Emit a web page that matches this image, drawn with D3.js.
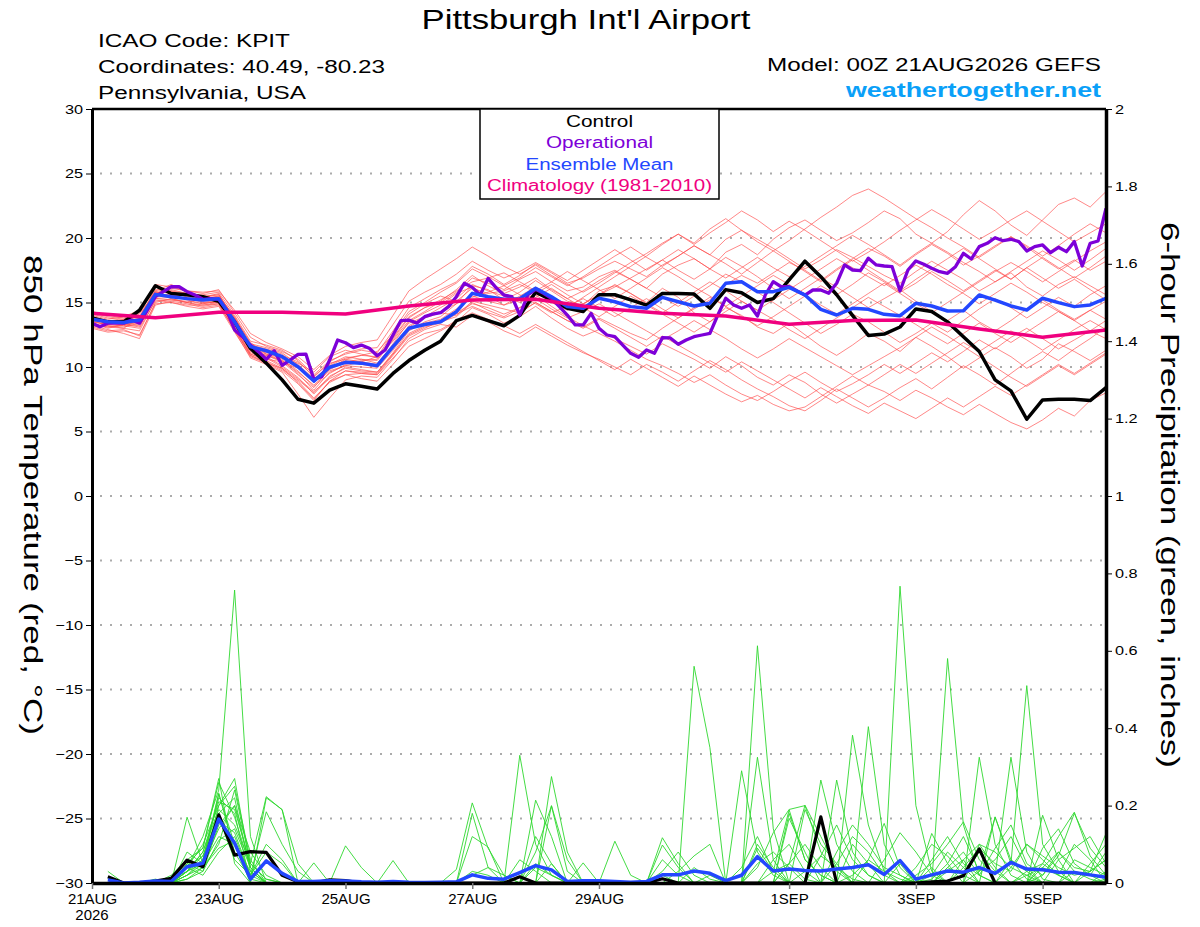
<!DOCTYPE html>
<html>
<head>
<meta charset="utf-8">
<script src="https://cdnjs.cloudflare.com/ajax/libs/d3/7.8.5/d3.min.js"></script>
<style>
  body { margin: 0; background: #fff; }
  text { font-family: "Liberation Sans", Arial, Helvetica, sans-serif; }
</style>
</head>
<body>
<script>
// plot box inside the 1200x927 page
const margin = {top: 109, right: 94, bottom: 44, left: 92},
      width = 1014,
      height = 774

// x is forecast hour from 00Z 21AUG2026 (0 .. 384)
const xTickHours = [0, 48, 96, 144, 192, 264, 312, 360]
const xTickLabels = ["21AUG", "23AUG", "25AUG", "27AUG", "29AUG", "1SEP", "3SEP", "5SEP"]
const tempTicks = [30, 25, 20, 15, 10, 5, 0, -5, -10, -15, -20, -25, -30]
const gridTemps = [25, 20, 15, 10, 5, 0, -5, -10, -15, -20, -25]
const precipTicks = [0, 0.2, 0.4, 0.6, 0.8, 1, 1.2, 1.4, 1.6, 1.8, 2]

// 850 hPa temperature, 6-hourly from hour 0
const tempControl = [13.8,13.5,13.5,14.4,16.3,15.7,15.6,15.45,15.1,13.5,11.45,10.3,9.0,7.5,7.2,8.2,8.7,8.5,8.3,9.5,10.5,
  11.3,12.0,13.6,14.0,13.6,13.2,14.0,15.8,15.2,14.55,14.3,15.6,15.6,15.2,14.8,15.7,15.7,15.65,14.55,16.0,15.75,15.0,
  15.3,16.75,18.2,17.0,15.6,14.0,12.45,12.55,13.1,14.5,14.3,13.5,12.35,11.2,9.0,8.15,5.95,7.45,7.5,7.5,7.4,8.4]

const tempMean = [13.7,13.51,13.45,13.64,15.63,15.45,15.3,15.19,15.3,13.51,11.58,11.26,10.8,10.02,8.91,9.98,10.36,10.3,10.1,11.58,13.0,
  13.3,13.51,14.29,15.71,15.45,15.25,15.3,16.1,15.45,14.68,14.55,15.33,15.06,14.68,14.55,15.4,15.06,14.73,14.94,16.49,16.61,15.84,
  15.84,16.17,15.58,14.47,14.03,14.55,14.47,14.08,13.98,14.94,14.73,14.34,14.36,15.58,15.19,14.73,14.42,15.33,14.99,14.68,14.81,15.33]

// operational run, 3-hourly from hour 0
const tempOper = [13.39,13.12,13.4,13.4,13.4,13.64,13.4,14.42,15.45,15.84,16.22,16.22,15.84,15.58,15.25,15.3,15.25,14.42,
  12.87,12.35,11.7,11.19,10.6,11.26,10.13,10.54,10.98,11.0,9.05,9.25,10.54,12.09,11.88,11.5,11.7,11.45,10.87,11.32,
  12.48,13.6,13.64,13.4,13.9,14.1,14.21,14.68,15.45,16.49,16.17,15.58,16.87,16.15,15.58,15.45,14.03,15.58,16.02,15.71,
  15.33,14.68,14.03,13.26,13.26,14.16,13.0,12.48,12.35,11.7,11.06,10.75,11.32,11.06,12.27,12.25,11.76,12.09,12.35,12.48,
  12.61,14.03,15.33,14.81,14.55,14.81,13.95,15.6,16.61,16.22,16.22,15.89,15.58,15.97,15.97,15.71,16.49,17.91,17.52,17.47,
  18.43,17.91,17.83,17.78,15.89,17.52,18.22,17.96,17.65,17.39,17.26,17.78,18.81,18.37,19.33,19.59,20.02,19.79,19.9,19.72,
  18.99,19.33,19.46,18.86,19.28,18.94,19.72,17.83,19.59,19.77,22.3]

// 1981-2010 climatology, daily at 00Z
const tempClim = [14.16,13.82,14.24,14.24,14.1,14.73,15.19,15.25,14.55,14.16,13.95,13.31,13.6,13.64,12.95,12.3,12.87]

// ensemble members, 6-hourly from hour 0
const tempMembers = [
  [13.9,13.2,13.0,13.8,16.0,15.8,15.6,15.4,15.6, 13.8,11.9,11.0,10.5,9.6,8.6,9.7,10.1,10.4,10.8,12.3,13.9,
   14.6,15.0,15.8,16.9,16.5,16.0,16.8,17.4,16.6,15.9,16.2,17.0, 17.5,16.8,16.1,17.2,17.9,18.4,17.6,18.9,19.5,18.7,
   19.9,20.8,21.4,20.6,19.8,20.4,21.2,22.1,21.5,20.3,19.6, 20.5,21.8,22.9,22.1,21.0,20.2,21.4,22.6,23.1,22.4,23.6],
  [13.2,12.9,12.6,12.2,14.8,15.1,14.9,14.6,14.8, 12.9,10.9,10.4,9.8,8.9,7.6,8.8,9.4,9.1,8.9,10.2,11.6,
   12.2,12.8,13.5,14.6,14.1,13.4,13.9,14.7,13.8,13.0,12.4,12.9, 12.2,11.6,11.0,11.8,11.2,10.6,9.9,10.8,10.1,9.2,
   8.6,9.4,8.8,7.9,7.2,7.9,8.6,8.1,7.4,8.2,7.6, 6.9,6.3,7.1,6.4,5.7,5.2,5.9,6.8,6.2,7.4,8.0],
  [14.1,13.8,13.6,13.9,15.9,16.4,15.8,15.5,15.3, 13.2,11.2,10.8,10.1,9.2,7.9,9.2,10.0,9.8,9.6,11.1,12.8,
   13.5,13.9,14.9,16.3,16.0,15.2,15.8,16.7,15.9,15.1,14.8,15.9, 16.3,15.7,15.0,16.1,15.4,14.2,13.5,14.6,14.0,13.1,
   12.6,13.4,12.5,11.6,10.9,11.7,12.6,12.0,11.2,12.3,11.6, 10.8,9.9,10.7,11.5,10.8,9.9,10.6,11.8,11.2,10.5,11.3],
  [13.6,13.4,13.7,14.2,15.7,16.1,15.9,15.7,16.0, 14.2,12.3,11.6,11.2,10.6,9.4,10.5,11.0,11.3,11.1,12.8,14.6,
   15.3,16.0,16.6,17.8,17.2,16.4,17.1,18.0,17.3,16.5,16.9,17.6, 18.2,17.6,17.0,17.9,18.6,19.4,18.7,19.9,20.6,19.9,
   19.2,18.4,17.6,18.3,19.1,18.5,17.8,17.1,16.5,17.4,18.2, 17.5,16.8,15.9,16.6,17.3,16.2,15.5,16.4,17.0,16.3,15.6],
  [13.4,13.0,13.3,13.1,15.4,15.6,15.2,14.9,15.1, 13.0,11.0,10.6,10.4,9.9,9.0,10.2,10.8,10.6,10.3,11.7,13.1,
   13.8,14.2,14.0,15.1,14.8,14.5,14.2,15.0,14.3,13.6,13.1,13.8, 13.2,12.6,12.1,13.0,13.8,14.5,15.2,16.4,17.1,16.5,
   17.3,18.1,17.5,16.7,17.6,18.4,19.2,18.6,17.8,18.7,19.5, 18.8,17.9,18.6,19.4,20.1,19.3,18.4,17.6,18.3,17.5,18.2],
  [13.9,13.6,13.4,13.3,15.5,15.7,15.5,15.2,15.4, 13.4,11.4,11.0,10.7,10.3,9.6,10.8,11.3,11.0,10.7,12.0,13.4,
   13.9,14.3,14.9,15.5,15.1,14.8,15.2,15.6,14.7,13.9,13.2,12.6, 12.0,11.3,10.6,10.1,9.5,8.8,9.4,8.6,7.9,7.4,
   8.1,8.9,9.6,8.8,8.1,8.7,9.4,10.2,9.5,10.3,11.1, 10.4,11.2,12.1,11.4,12.3,13.0,12.2,11.4,12.1,12.8,12.2],
  [13.5,13.3,13.5,13.6,15.9,15.3,15.0,15.3,15.5, 13.7,11.7,11.4,11.0,10.0,8.8,9.8,10.4,10.6,10.5,12.1,13.6,
   14.3,15.1,16.0,17.1,16.3,15.7,16.2,16.9,16.0,15.3,15.9,16.7, 17.4,16.8,16.1,15.4,14.7,15.5,16.3,17.2,16.6,15.8,
   15.0,14.2,13.4,12.6,13.3,14.1,13.5,12.7,11.9,12.6,13.4, 12.7,13.6,14.5,15.3,14.6,13.8,14.6,15.4,14.7,15.6,16.3],
  [14.3,14.0,13.8,14.1,15.6,15.9,15.4,15.1,15.2, 13.6,11.5,11.2,10.9,10.4,9.3,10.3,10.6,10.9,11.2,12.5,14.1,
   14.9,15.5,15.1,16.1,15.7,15.9,16.4,15.8,15.0,14.4,14.9,15.6, 16.2,16.9,17.6,18.3,17.5,16.8,17.6,18.5,17.8,17.0,
   16.1,15.3,16.1,16.9,16.2,15.4,14.6,15.3,16.0,15.1,14.3, 13.6,14.4,13.5,12.8,13.6,14.5,15.2,14.4,13.7,14.4,15.1],
  [13.1,12.8,12.9,12.4,15.0,15.3,15.0,14.7,14.9, 12.8,10.7,10.2,9.6,7.9,6.1,7.6,9.0,9.3,9.2,10.6,12.2,
   12.9,13.3,13.1,14.0,13.5,12.8,12.3,13.1,12.4,11.7,11.1,10.6, 10.0,9.4,10.2,9.6,8.9,9.7,10.5,9.8,9.0,8.3,
   7.7,7.0,6.6,7.4,8.3,7.6,6.9,7.6,8.4,9.1,8.3, 9.2,10.1,9.4,8.6,9.5,10.4,11.2,10.5,11.4,12.2,13.1],
  [13.7,13.5,13.2,13.5,15.8,15.5,15.6,15.0,15.0, 13.3,11.3,10.9,10.5,9.5,8.2,9.6,10.1,10.0,9.9,11.3,12.9,
   13.4,13.7,14.5,15.4,15.8,16.3,15.6,14.9,14.2,14.7,15.3,14.6, 13.9,14.6,15.3,14.5,13.8,14.6,15.4,14.7,13.9,13.2,
   13.9,14.7,15.5,16.3,15.6,16.4,17.3,16.6,15.8,16.5,17.4, 16.7,15.9,16.7,17.5,16.8,17.7,16.9,16.1,16.8,16.0,15.2],
  [14.0,13.7,13.9,14.4,16.4,16.2,15.9,15.8,15.9, 14.4,12.6,11.9,11.4,10.8,9.8,10.9,11.6,11.9,12.1,14.0,15.9,
   16.8,17.6,18.4,19.3,18.6,17.8,17.2,17.9,17.1,16.4,15.8,16.5, 17.3,18.1,18.8,19.6,20.3,19.5,20.4,21.2,22.1,21.4,
   20.5,21.3,20.6,19.8,19.0,18.2,18.9,19.7,20.6,21.4,22.2, 21.5,20.7,19.9,20.6,21.4,22.1,21.3,20.5,19.7,20.4,21.1],
  [13.3,13.1,13.0,12.8,15.2,15.0,14.8,14.8,15.0, 13.1,11.1,10.7,10.0,9.1,8.1,9.1,9.7,9.5,9.4,10.9,12.4,
   13.0,13.6,14.2,14.9,14.6,14.1,14.6,15.3,14.5,13.8,14.3,14.9, 14.2,13.5,12.8,12.1,12.8,13.6,12.9,12.2,11.4,10.7,
   11.4,12.2,11.5,10.8,10.1,9.4,10.1,10.8,11.5,12.3,13.1, 12.4,11.6,10.8,10.0,9.2,8.5,9.3,10.1,9.4,10.2,11.0],
  [13.8,13.4,13.6,13.7,15.3,15.4,15.3,15.2,15.5, 13.9,11.8,11.5,11.1,10.2,9.1,10.0,10.5,10.2,10.0,11.5,13.2,
   13.9,14.6,15.3,16.4,15.9,15.5,15.0,15.7,16.4,15.6,14.9,15.6, 16.4,15.7,14.9,14.2,15.0,15.8,16.6,15.9,15.1,14.4,
   15.2,16.0,16.8,17.6,18.4,17.7,17.0,16.3,17.1,17.9,17.2, 16.4,15.7,14.9,15.7,16.5,15.8,15.0,14.3,13.6,14.4,13.7],
  [13.6,13.2,13.1,13.4,15.6,16.0,15.7,15.4,15.7, 13.5,11.4,11.1,10.8,10.1,9.0,10.1,10.7,10.9,10.8,12.6,14.3,
   15.0,15.8,16.5,17.6,17.0,16.3,16.9,17.7,17.0,16.3,17.0,17.8, 18.6,19.3,18.5,17.8,18.6,19.4,18.7,18.0,17.2,18.1,
   19.0,19.8,20.7,21.6,22.4,23.3,23.8,23.1,22.3,21.5,20.8, 20.0,19.3,18.5,19.3,20.1,19.4,18.6,19.4,20.3,21.1,20.4],
  [13.5,13.3,13.2,13.0,15.1,15.2,15.1,14.9,15.1, 13.0,11.0,10.5,9.9,8.8,7.5,8.9,9.7,9.6,9.5,11.0,12.5,
   13.1,13.4,14.1,14.7,14.2,13.8,14.3,15.0,14.3,13.6,13.0,13.7, 13.0,12.3,11.6,12.4,11.7,11.0,10.3,9.6,10.4,9.7,
   9.0,8.3,7.6,8.4,7.7,7.0,6.4,7.2,6.6,6.0,6.8, 7.6,6.9,7.7,8.5,7.8,8.6,9.4,10.2,9.5,10.3,11.1],
  [14.2,13.9,13.7,13.9,15.8,15.9,15.7,15.5,15.6, 13.8,11.6,11.2,10.6,9.7,8.5,9.5,10.2,10.5,10.6,12.2,13.8,
   14.6,15.2,15.9,16.6,16.9,17.3,16.6,15.9,16.6,17.4,16.7,16.0, 15.3,16.1,16.9,17.7,17.0,16.2,15.5,14.7,15.5,16.3,
   17.1,16.4,15.6,14.8,14.1,14.9,15.7,16.5,15.7,14.9,14.2, 15.0,15.8,16.6,17.4,18.1,17.4,16.6,17.4,18.2,19.0,19.7],
  [13.0,12.7,12.8,12.5,14.9,15.0,14.7,14.5,14.7, 12.7,10.8,10.3,9.9,9.0,8.0,9.3,9.9,9.7,9.6,11.0,12.6,
   13.2,13.5,13.9,15.0,14.4,13.9,14.6,15.4,16.1,15.3,14.6,13.9, 14.7,15.5,14.8,14.1,13.4,12.7,13.5,14.3,15.1,14.4,
   13.7,12.9,12.2,13.0,13.8,14.6,15.4,14.7,14.0,13.3,12.5, 11.8,12.6,13.4,12.6,11.9,12.7,13.5,14.3,13.6,12.8,13.6],
  [13.7,13.6,13.5,13.8,15.5,15.6,15.3,15.0,15.2, 13.4,11.3,10.9,10.4,9.4,8.4,9.9,10.6,10.4,10.2,11.8,13.5,
   14.2,14.8,15.7,16.2,15.5,14.8,15.5,16.2,15.4,14.6,15.4,16.2, 17.0,17.8,18.6,19.5,20.3,19.6,20.7,21.5,20.6,19.7,
   19.0,18.2,17.4,16.6,17.5,18.3,17.5,16.7,15.9,16.8,17.6, 18.4,19.2,18.4,17.6,16.8,17.7,18.5,17.7,16.9,17.7,18.6],
  [13.4,13.1,13.3,13.2,15.3,15.2,15.0,14.8,14.9, 12.9,10.9,10.3,9.7,8.7,7.4,8.9,9.4,9.5,9.4,10.7,12.0,
   12.6,12.9,13.6,14.2,13.7,13.2,12.6,13.3,12.6,11.9,11.2,10.5, 9.8,10.6,9.9,9.2,8.5,9.3,8.6,7.9,7.3,7.8,
   7.1,6.6,6.9,7.7,8.5,9.3,8.6,9.4,10.2,9.5,10.3, 11.1,11.9,11.2,12.0,12.8,12.1,11.3,12.1,12.9,13.6,12.9],
  [13.9,13.5,13.3,13.6,16.2,15.8,15.6,15.6,15.8, 14.0,12.0,11.7,11.3,10.5,9.2,10.4,11.1,11.4,11.5,13.3,15.1,
   15.8,16.4,17.2,18.2,17.5,16.9,17.4,18.1,17.4,16.7,17.5,18.3, 19.1,18.3,17.5,18.3,19.1,18.4,17.6,16.9,17.7,18.5,
   17.7,17.0,17.8,18.6,19.4,20.2,19.5,18.7,17.9,18.8,19.6, 18.9,18.1,17.4,16.6,17.4,18.2,19.0,18.3,17.5,18.3,19.2]
]

// 6-hour precipitation (inches), 6-hourly from hour 6
const precipControl = [0.016,0,0,0.005,0.012,0.059,0.042,0.176, 0.072,0.081,0.079,0.02,0.003,0,0.008,0.006,
  0,0,0,0,0,0,0,0, 0,0,0.016,0,0,0,0,0, 0,0,0,0.011,0,0,0,0,
  0,0,0,0,0,0.171,0,0, 0,0,0,0,0.003,0.005,0.019,0.088, 0,0,0,0,0,0,0,0]

const precipMean = [0.008,0,0.002,0.005,0.004,0.042,0.051,0.165, 0.103,0.01,0.057,0.025,0.004,0.004,0.006,0.005,
  0.003,0.002,0.004,0.002,0.001,0.002,0.003,0.021, 0.012,0.01,0.027,0.045,0.034,0.004,0.006,0.006,
  0.004,0.002,0.004,0.021,0.021,0.031,0.025,0.006, 0.02,0.068,0.031,0.036,0.032,0.031,0.036,0.04,
  0.047,0.022,0.058,0.01,0.021,0.031,0.028,0.04, 0.025,0.053,0.036,0.034,0.028,0.027,0.021,0.015]

const precipMembers = [
  [0,0,0,0,0.01,0.04,0.12,0.24, 0.757,0.12,0,0,0,0,0,0, 0,0,0,0,0,0,0,0.03, 0.02,0,0,0.05,0.02,0,0,0,
   0,0,0,0.02,0,0.04,0.01,0, 0,0,0.03,0.05,0.01,0,0,0.02, 0.06,0.03,0.01,0,0,0.04,0.08,0.02, 0,0,0.03,0.05,0.02,0,0,0.01],
  [0.03,0,0,0,0.02,0.06,0.09,0.27, 0.05,0,0.22,0.19,0,0,0,0, 0,0,0,0,0,0,0,0, 0,0,0.33,0.1,0.02,0,0,0,
   0,0,0,0,0,0,0,0, 0,0.04,0.13,0.19,0.2,0.08,0.03,0, 0,0,0,0,0.01,0.05,0.12,0.03, 0.17,0.06,0.01,0,0,0.03,0.02,0],
  [0,0,0,0,0,0.17,0.05,0.23, 0.1,0,0,0,0,0,0,0.096, 0.04,0,0,0,0,0,0,0, 0,0,0,0,0,0,0,0,
   0,0,0,0,0,0.56,0.35,0, 0,0,0,0,0,0,0.05,0.12, 0.08,0.02,0,0,0,0.03,0.06,0.1, 0.04,0,0,0.02,0.07,0.18,0.09,0.04],
  [0,0,0,0.01,0,0.04,0.1,0.2, 0.27,0.04,0,0,0,0,0,0, 0,0,0.058,0,0,0,0,0, 0,0,0,0,0.2,0.06,0,0,
   0,0,0,0,0,0,0,0, 0,0.613,0.14,0,0.03,0.07,0.04,0.01, 0,0,0,0,0.128,0.05,0,0, 0,0,0.02,0.04,0.08,0.03,0.01,0],
  [0,0,0,0,0.01,0.03,0.07,0.18, 0.22,0.03,0,0,0,0.052,0,0, 0,0,0,0,0,0,0.035,0.207, 0.09,0.02,0,0,0,0,0,0,
   0,0,0,0.117,0.05,0,0,0, 0,0,0,0,0,0.266,0.1,0.03, 0,0,0,0,0,0,0,0.03, 0.06,0.12,0.04,0,0,0,0,0],
  [0,0,0,0,0,0.08,0.05,0.16, 0.13,0.02,0.184,0.1,0.03,0,0,0, 0,0,0,0,0,0,0,0, 0,0,0,0.12,0.05,0,0,0,
   0.108,0.02,0,0,0,0,0,0, 0.29,0.08,0.02,0,0,0,0,0.382, 0.15,0.03,0,0,0,0,0,0, 0,0.04,0.1,0.06,0.02,0,0,0.03],
  [0,0,0,0,0,0.02,0.06,0.22, 0.18,0,0,0,0,0,0,0, 0,0,0,0,0,0,0,0.12, 0.093,0,0,0.214,0.12,0,0,0,
   0,0,0,0,0,0,0.02,0, 0,0.325,0.06,0,0,0,0,0, 0.404,0.1,0.02,0,0,0,0,0, 0,0,0,0.05,0.12,0.183,0.07,0.02],
  [0,0,0,0,0,0.05,0.03,0.15, 0.2,0.04,0,0,0,0,0,0, 0,0,0,0,0,0,0,0, 0,0,0,0,0.275,0.08,0,0,
   0,0,0,0,0,0,0,0, 0,0,0,0.18,0.06,0.02,0,0, 0,0,0.767,0.2,0.03,0,0,0, 0,0,0,0,0,0,0,0],
  [0.01,0,0,0,0,0.03,0.08,0.19, 0.15,0.05,0.223,0.189,0.05,0,0,0, 0,0,0,0,0,0,0,0, 0,0,0,0,0.05,0,0,0,
   0,0,0,0.098,0.04,0,0,0, 0,0,0,0,0.19,0.1,0.05,0, 0,0,0,0,0,0.58,0.15,0.02, 0,0,0,0,0,0.06,0.04,0.02],
  [0,0,0,0,0,0.01,0.04,0.1, 0.24,0.05,0.01,0,0,0,0,0, 0,0,0,0,0,0,0,0, 0,0,0,0,0,0,0.052,0,
   0,0,0,0,0,0,0,0, 0,0,0,0.167,0.08,0,0,0, 0.06,0.154,0.04,0,0,0,0,0.325, 0.1,0.02,0,0.175,0.06,0,0,0],
  [0,0,0,0,0,0.02,0.05,0.12, 0.1,0.03,0,0,0,0,0,0, 0,0,0,0,0,0,0,0.18, 0.04,0,0,0.08,0.199,0.03,0,0,
   0,0,0,0,0,0,0,0, 0,0,0,0,0,0,0,0, 0,0,0,0.02,0.05,0.1,0.158,0.06, 0.02,0.325,0.08,0.01,0,0,0.03,0.128],
  [0,0,0,0,0,0.04,0.02,0.08, 0.12,0.02,0.08,0.05,0,0,0,0, 0,0,0,0,0,0,0,0, 0,0,0.06,0.03,0,0,0,0,
   0,0,0,0,0,0,0,0, 0,0.09,0.03,0.189,0.06,0.02,0,0.1, 0.05,0,0,0,0,0,0,0, 0.171,0.05,0.51,0.1,0.03,0,0,0],
  [0,0,0,0,0,0.01,0.03,0.11, 0.14,0.04,0,0,0,0,0,0, 0,0,0,0,0,0,0,0, 0,0,0,0,0,0,0,0,
   0,0,0,0,0,0,0,0, 0,0,0,0.05,0.201,0.12,0.04,0, 0,0,0.05,0,0.02,0.08,0.04,0, 0,0,0,0.09,0.14,0.05,0.02,0.08],
  [0,0,0,0,0,0.03,0.06,0.232, 0.08,0.01,0,0,0,0,0,0, 0,0,0,0,0,0,0,0, 0,0,0,0,0,0,0,0,
   0,0,0,0.03,0.08,0.02,0,0, 0,0.1,0.04,0,0,0,0.266,0.08, 0.02,0,0,0.01,0,0.04,0.02,0.08, 0.03,0,0,0.04,0.02,0.1,0.06,0],
  [0,0,0,0,0,0.02,0.04,0.09, 0.11,0.02,0.1,0.06,0,0,0,0, 0,0,0,0,0,0,0,0, 0,0,0,0,0,0,0,0,
   0,0,0,0,0,0,0,0, 0,0,0,0,0,0,0.08,0.15, 0.1,0.04,0.02,0,0,0,0.06,0, 0,0,0,0,0,0,0,0],
  [0,0,0,0,0,0.06,0.04,0.2, 0.25,0.06,0,0,0,0,0,0, 0,0,0,0,0,0,0,0, 0,0,0,0,0,0,0,0,
   0,0,0,0,0.03,0.07,0.1,0, 0,0.05,0.08,0.04,0,0,0,0, 0,0.06,0.13,0.08,0.02,0,0,0.1, 0.08,0.04,0.02,0,0.06,0.09,0.12,0.05],
  [0,0,0,0,0,0.04,0.07,0.17, 0.06,0.02,0,0,0,0,0,0, 0,0,0,0,0,0,0,0, 0,0,0,0,0,0,0,0,
   0,0,0,0.06,0.02,0,0,0, 0,0,0,0,0,0,0,0, 0,0,0,0.04,0.1,0.07,0.02,0, 0,0.06,0.03,0,0,0,0.05,0.1],
  [0,0,0,0,0,0.03,0.05,0.14, 0.2,0.08,0.02,0,0,0,0,0, 0,0,0,0,0,0,0,0.02, 0.04,0.02,0,0,0,0,0,0,
   0,0,0,0,0,0,0,0, 0.04,0.12,0.03,0,0,0.07,0.15,0.06, 0.02,0,0,0,0.04,0,0,0, 0,0,0,0,0,0,0,0],
  [0,0,0,0,0,0.05,0.09,0.26, 0.17,0.04,0,0,0,0,0,0, 0,0,0,0,0,0,0,0, 0,0,0,0,0,0,0,0,
   0,0,0,0,0,0,0,0, 0,0,0,0.05,0.1,0.04,0,0, 0,0,0,0,0.06,0.12,0.05,0.02, 0.09,0.15,0.05,0.02,0.08,0.04,0.03,0.06],
  [0,0,0,0,0,0.03,0.08,0.21, 0.19,0.05,0.01,0,0,0,0,0, 0,0,0,0,0,0,0,0, 0,0,0,0.04,0.02,0,0,0,
   0,0,0,0,0,0,0,0, 0,0,0.06,0.1,0.03,0,0,0, 0,0,0,0,0,0,0.04,0.09, 0.05,0.03,0.1,0.07,0.04,0.02,0.03,0.06]
]

const svg = d3.select("body")
  .append("svg")
  .attr("width", 1200)
  .attr("height", 927)

const plot = svg.append("g")
  .attr("transform", `translate(${margin.left},${margin.top})`)

const x = d3.scaleLinear().domain([0, 384]).range([0, width])
const yT = d3.scaleLinear().domain([-30, 30]).range([height, 0])
const yP = d3.scaleLinear().domain([0, 2]).range([height, 0])

// GrADS text is wider than Liberation Sans, so stretch glyphs sideways
function stretch(sel, k) {
  sel.each(function () {
    const w = this.getComputedTextLength()
    d3.select(this).attr("textLength", w * k).attr("lengthAdjust", "spacingAndGlyphs")
  })
}

// dotted grid at every 5 C
plot.append("g")
  .selectAll("line")
  .data(gridTemps)
  .join("line")
  .attr("x1", 8).attr("x2", width)
  .attr("y1", d => yT(d)).attr("y2", d => yT(d))
  .attr("stroke", "#ababab")
  .attr("stroke-width", 2)
  .attr("stroke-dasharray", "2,8")

// line generators for the different time steps
const lineEvery = (step, start, yScale) => d3.line()
  .x((d, i) => x(start + i * step))
  .y(d => yScale(d))

const temp6 = lineEvery(6, 0, yT)
const temp3 = lineEvery(3, 0, yT)
const temp24 = lineEvery(24, 0, yT)
const precip6 = lineEvery(6, 6, yP)

// precipitation members
plot.append("g").attr("id", "precip-members")
  .selectAll("path")
  .data(precipMembers)
  .join("path")
  .attr("d", d => precip6(d))
  .attr("fill", "none")
  .attr("stroke", "#2fd82f")
  .attr("stroke-width", 0.9)

// temperature members
plot.append("g").attr("id", "temp-members")
  .selectAll("path")
  .data(tempMembers)
  .join("path")
  .attr("d", d => temp6(d))
  .attr("fill", "none")
  .attr("stroke", "#ff4a4a")
  .attr("stroke-opacity", 0.78)
  .attr("stroke-width", 0.85)

plot.append("path")
  .attr("d", precip6(precipControl))
  .attr("fill", "none").attr("stroke", "#000").attr("stroke-width", 3.2)
  .attr("stroke-linejoin", "round")
plot.append("path")
  .attr("d", precip6(precipMean))
  .attr("fill", "none").attr("stroke", "#2347ff").attr("stroke-width", 3.5)
  .attr("stroke-linejoin", "round")

plot.append("path")
  .attr("d", temp6(tempControl))
  .attr("fill", "none").attr("stroke", "#000").attr("stroke-width", 3.5)
  .attr("stroke-linejoin", "round")
plot.append("path")
  .attr("d", temp3(tempOper))
  .attr("fill", "none").attr("stroke", "#7d00d8").attr("stroke-width", 3.3)
  .attr("stroke-linejoin", "round")
plot.append("path")
  .attr("d", temp6(tempMean))
  .attr("fill", "none").attr("stroke", "#2347ff").attr("stroke-width", 3.5)
  .attr("stroke-linejoin", "round")
plot.append("path")
  .attr("d", temp24(tempClim))
  .attr("fill", "none").attr("stroke", "#f0007f").attr("stroke-width", 3.5)
  .attr("stroke-linejoin", "round")

// axes
const axisFont = "'Liberation Sans', Arial, Helvetica, sans-serif"

const leftAxis = plot.append("g")
  .call(d3.axisLeft(yT).tickValues(tempTicks).tickSize(6).tickSizeOuter(0).tickPadding(3))
  .attr("font-family", axisFont).attr("font-size", 13)
leftAxis.select(".domain").attr("stroke-width", 3)
leftAxis.selectAll("text").call(stretch, 1.25)

const rightAxis = plot.append("g")
  .attr("transform", `translate(${width},0)`)
  .call(d3.axisRight(yP).tickValues(precipTicks).tickFormat(d => d).tickSize(6).tickSizeOuter(0).tickPadding(3))
  .attr("font-family", axisFont).attr("font-size", 13)
rightAxis.select(".domain").attr("stroke-width", 3.5)
rightAxis.selectAll("text").call(stretch, 1.25)

const bottomAxis = plot.append("g")
  .attr("transform", `translate(0,${height})`)
  .call(d3.axisBottom(x).tickValues(xTickHours).tickFormat((d, i) => xTickLabels[i]).tickSize(6).tickSizeOuter(0).tickPadding(4))
  .attr("font-family", axisFont).attr("font-size", 15)
bottomAxis.select(".domain").attr("stroke-width", 3.5)
bottomAxis.selectAll(".tick line").attr("stroke", "#777").attr("stroke-width", 1.5)
bottomAxis.append("text")
  .text("2026")
  .attr("x", 0).attr("y", 37)
  .attr("fill", "#000")
  .attr("text-anchor", "middle")

// top border of the plot
plot.append("line")
  .attr("x1", 0).attr("x2", width).attr("y1", 0).attr("y2", 0)
  .attr("stroke", "#000").attr("stroke-width", 2.5)

// legend box
const legendLines = [
  {text: "Control", color: "#000", len: 67},
  {text: "Operational", color: "#7d00d8", len: 107},
  {text: "Ensemble Mean", color: "#2347ff", len: 148},
  {text: "Climatology (1981-2010)", color: "#f0007f", len: 225}
]
svg.append("rect")
  .attr("x", 480).attr("y", 109).attr("width", 239).attr("height", 90)
  .attr("fill", "#fff").attr("stroke", "#000").attr("stroke-width", 1.5)
svg.append("g").selectAll("text")
  .data(legendLines)
  .join("text")
  .text(d => d.text)
  .attr("x", 599.5)
  .attr("y", (d, i) => 127 + i * 21.3)
  .attr("text-anchor", "middle")
  .attr("font-size", 16)
  .attr("fill", d => d.color)
  .attr("textLength", d => d.len)
  .attr("lengthAdjust", "spacingAndGlyphs")

// header texts
function header(str, px, py, size, len, anchor, color, weight) {
  svg.append("text")
    .text(str)
    .attr("x", px).attr("y", py)
    .attr("font-size", size)
    .attr("font-weight", weight || "normal")
    .attr("fill", color || "#000")
    .attr("text-anchor", anchor)
    .attr("textLength", len)
    .attr("lengthAdjust", "spacingAndGlyphs")
}
header("Pittsburgh Int'l Airport", 586, 29, 27, 329, "middle")
header("ICAO Code: KPIT", 98, 47, 18, 192, "start")
header("Coordinates: 40.49, -80.23", 98, 73, 18, 287, "start")
header("Pennsylvania, USA", 98, 99, 18, 208, "start")
header("Model: 00Z 21AUG2026 GEFS", 1101, 71, 18, 334, "end")
header("weathertogether.net", 1101, 97, 20, 255, "end", "#0aa0f8", "bold")

// axis titles, both reading top to bottom
svg.append("text")
  .text("850 hPa Temperature (red, \u00B0C)")
  .attr("transform", "translate(24,495) rotate(90)")
  .attr("text-anchor", "middle")
  .attr("font-size", 26)
  .attr("textLength", 480)
  .attr("lengthAdjust", "spacingAndGlyphs")
svg.append("text")
  .text("6-hour Precipitation (green, inches)")
  .attr("transform", "translate(1161,495) rotate(90)")
  .attr("text-anchor", "middle")
  .attr("font-size", 26)
  .attr("textLength", 546)
  .attr("lengthAdjust", "spacingAndGlyphs")
</script>
</body>
</html>
